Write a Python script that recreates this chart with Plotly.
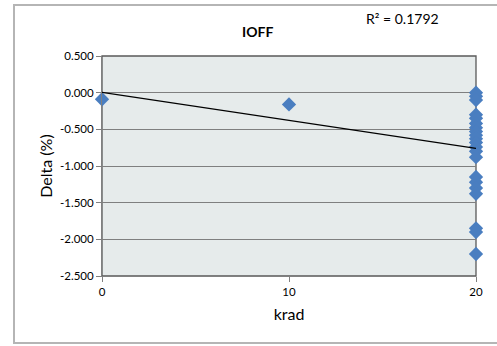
import plotly.graph_objects as go

# Data
krad = [0, 10] + [20] * 21
delta = [-0.09, -0.16,
         0.00, -0.05, -0.10, -0.30, -0.35, -0.42, -0.48, -0.53, -0.58,
         -0.63, -0.68, -0.74, -0.80, -0.88, -1.15, -1.22, -1.30, -1.38,
         -1.85, -1.90, -2.20]

trend_x = [0, 20]
trend_y = [0.005, -0.76]

y_ticks = [0.5, 0.0, -0.5, -1.0, -1.5, -2.0, -2.5]
y_tick_labels = ["0.500", "0.000", "-0.500", "-1.000", "-1.500", "-2.000", "-2.500"]
x_ticks = [0, 10, 20]

title_text = "<b>IOFF</b>"
r2_text = "R² = 0.1792"

FONT = "Lato, 'Open Sans', sans-serif"

fig = go.Figure()
fig.add_trace(go.Scatter(
    x=krad, y=delta, mode="markers",
    marker=dict(symbol="diamond", size=11, color="#4A7EC0"),
    cliponaxis=False, showlegend=False))
fig.add_trace(go.Scatter(
    x=trend_x, y=trend_y, mode="lines",
    line=dict(color="#000000", width=1.3), showlegend=False))

fig.update_layout(
    width=497, height=346,
    margin=dict(l=102, r=21, t=56, b=70),
    paper_bgcolor="white",
    plot_bgcolor="#E6EBEB",
    font=dict(family=FONT, size=11, color="#000000"),
    xaxis=dict(
        range=[0, 20], tickvals=x_ticks, ticks="outside", ticklen=5,
        tickcolor="#808080", showgrid=False, zeroline=False,
        showline=True, linecolor="#808080", linewidth=1, mirror=False,
        title=dict(text="krad", font=dict(size=16), standoff=12),
        tickfont=dict(size=11.5),
    ),
    yaxis=dict(
        range=[-2.5, 0.5], tickvals=y_ticks, ticktext=y_tick_labels,
        ticks="outside", ticklen=5, tickcolor="#808080",
        showgrid=True, gridcolor="#7F7F7F", gridwidth=1, zeroline=False,
        showline=True, linecolor="#808080", linewidth=1,
        title=dict(text="Delta (%)", font=dict(size=16), standoff=3),
        tickfont=dict(size=11.5),
    ),
    shapes=[
        # plot-area frame (top & right)
        dict(type="rect", xref="paper", yref="paper", x0=0, y0=0, x1=1, y1=1,
             line=dict(color="#595959", width=1.3), layer="below"),
        # chart outer border
        dict(type="rect", xref="paper", yref="paper",
             x0=(14 - 102) / 374, y0=(276 - 343) / 220,
             x1=(505 - 102) / 374, y1=(276 - 5) / 220,
             line=dict(color="#B5B5B5", width=2)),
    ],
    annotations=[
        dict(text=title_text, xref="paper", yref="paper",
             x=(257 - 102) / 374, y=(276 - 32) / 220, showarrow=False,
             font=dict(size=14), xanchor="center", yanchor="middle"),
        dict(text=r2_text, xref="paper", yref="paper",
             x=(402 - 102) / 374, y=(276 - 19) / 220, showarrow=False,
             font=dict(size=14), xanchor="center", yanchor="middle"),
    ],
)

fig.write_html("out.html")
